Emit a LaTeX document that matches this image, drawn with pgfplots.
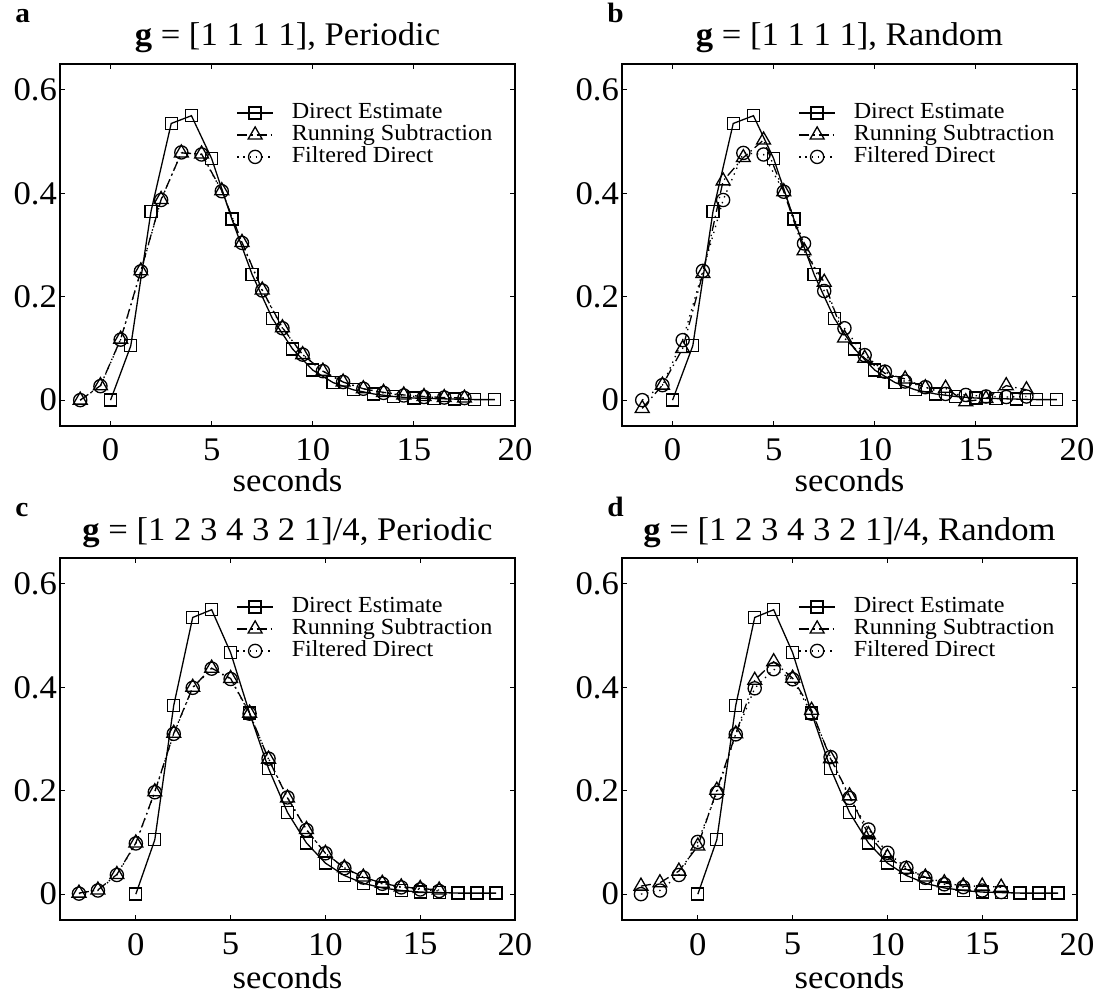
\documentclass[border=0pt]{standalone}
\usepackage{fontspec}
\setmainfont{Liberation Serif}[FakeStretch=1.05]
\usepackage{pgfplots}
\pgfplotsset{compat=1.18}

\newcommand{\lbl}{\fontsize{16.5}{18}\selectfont}
\newcommand{\leg}{\fontsize{11.5}{13}\selectfont}

\pgfplotsset{
  panel/.style={
    scale only axis, width=227.5pt, height=181pt, anchor=south west,
    ymin=-0.05, ymax=0.65, xmax=20,
    xtick={0,5,10,15,20}, xticklabels={0,5,10,15,20},
    ytick={0,0.2,0.4,0.6}, yticklabels={0,0.2,0.4,0.6},
    tick align=inside, tick pos=both, major tick length=2.5pt,
    axis line style={line width=0.6pt},
    every tick/.style={black,line width=0.5pt},
    tick label style={font=\lbl},
    xticklabel style={yshift=-3pt},
    yticklabel style={xshift=2pt},
    xlabel={seconds},
    xlabel style={font=\lbl,at={(axis description cs:0.5,0)},anchor=base,yshift=-33pt},
    title style={font=\lbl,at={(axis description cs:0.5,1)},anchor=base,yshift=3pt},
    legend style={at={(0.387,0.895)},anchor=north west,draw=none,fill=none,
      inner sep=0pt,font=\leg,row sep=0.5pt,
      nodes={inner sep=0.5pt,text height=7.5pt,text depth=2pt}},
    legend cell align=left,
    legend image code/.code={\draw[mark repeat=2,mark phase=2,##1] plot coordinates {(0pt,0pt) (9pt,0pt) (18pt,0pt)};},
    /tikz/every odd column/.append style={column sep=8.5pt},
    clip=false,
  },
  lower/.style={xlabel style={yshift=-1.5pt}},
  de/.style={black,line width=0.65pt,mark=square,mark size=3pt,mark options={solid,line width=0.65pt}},
  rs/.style={black,line width=0.65pt,dash pattern=on 5pt off 2pt on 0.7pt off 2pt,mark=triangle,mark size=4pt,mark options={solid,line width=0.65pt}},
  fd/.style={black,line width=0.65pt,dash pattern=on 0.7pt off 2.4pt,mark=o,mark size=3.3pt,mark options={solid,line width=0.65pt}},
}

\begin{document}
\begin{tikzpicture}

% a
\begin{axis}[panel,at={(30pt,284pt)},xmin=-2.5,title={\textbf{g} = [1 1 1 1], Periodic}]
\addplot[de] coordinates {(0,0) (1,0.105) (2,0.365) (3,0.535) (4,0.55) (5,0.467) (6,0.35) (7,0.243) (8,0.158) (9,0.099) (10,0.058) (11,0.034) (12,0.02) (13,0.012) (14,0.007) (15,0.004) (16,0.003) (17,0.002) (18,0.001) (19,0.001)};
\addlegendentry{Direct Estimate}
\addplot[rs] coordinates {(-1.5,0) (-0.5,0.028) (0.5,0.118) (1.5,0.25) (2.5,0.388) (3.5,0.478) (4.5,0.476) (5.5,0.405) (6.5,0.305) (7.5,0.213) (8.5,0.14) (9.5,0.088) (10.5,0.056) (11.5,0.035) (12.5,0.022) (13.5,0.015) (14.5,0.01) (15.5,0.007) (16.5,0.005) (17.5,0.004)};
\addlegendentry{Running Subtraction}
\addplot[fd] coordinates {(-1.5,0) (-0.5,0.027) (0.5,0.117) (1.5,0.249) (2.5,0.387) (3.5,0.479) (4.5,0.475) (5.5,0.404) (6.5,0.304) (7.5,0.212) (8.5,0.139) (9.5,0.088) (10.5,0.056) (11.5,0.035) (12.5,0.022) (13.5,0.014) (14.5,0.009) (15.5,0.006) (16.5,0.005) (17.5,0.004)};
\addlegendentry{Filtered Direct}
\end{axis}

% b
\begin{axis}[panel,at={(311pt,284pt)},xmin=-2.5,title={\textbf{g} = [1 1 1 1], Random}]
\addplot[de] coordinates {(0,0) (1,0.105) (2,0.365) (3,0.535) (4,0.55) (5,0.467) (6,0.35) (7,0.243) (8,0.158) (9,0.099) (10,0.058) (11,0.034) (12,0.02) (13,0.012) (14,0.007) (15,0.004) (16,0.003) (17,0.002) (18,0.001) (19,0.001)};
\addlegendentry{Direct Estimate}
\addplot[rs] coordinates {(-1.5,-0.016) (-0.5,0.029) (0.5,0.10) (1.5,0.245) (2.5,0.424) (3.5,0.469) (4.5,0.503) (5.5,0.403) (6.5,0.289) (7.5,0.228) (8.5,0.12) (9.5,0.081) (10.5,0.052) (11.5,0.041) (12.5,0.024) (13.5,0.023) (14.5,-0.003) (15.5,0.003) (16.5,0.028) (17.5,0.02)};
\addlegendentry{Running Subtraction}
\addplot[fd] coordinates {(-1.5,0) (-0.5,0.029) (0.5,0.116) (1.5,0.25) (2.5,0.387) (3.5,0.478) (4.5,0.475) (5.5,0.403) (6.5,0.303) (7.5,0.211) (8.5,0.139) (9.5,0.087) (10.5,0.055) (11.5,0.036) (12.5,0.025) (13.5,0.012) (14.5,0.01) (15.5,0.007) (16.5,0.006) (17.5,0.007)};
\addlegendentry{Filtered Direct}
\end{axis}

% c
\begin{axis}[panel,lower,at={(30pt,37pt)},xmin=-4,title={\textbf{g} = [1 2 3 4 3 2 1]/4, Periodic}]
\addplot[de] coordinates {(0,0) (1,0.105) (2,0.365) (3,0.535) (4,0.55) (5,0.467) (6,0.35) (7,0.243) (8,0.158) (9,0.099) (10,0.06) (11,0.036) (12,0.021) (13,0.012) (14,0.007) (15,0.004) (16,0.003) (17,0.002) (18,0.002) (19,0.002)};
\addlegendentry{Direct Estimate}
\addplot[rs] coordinates {(-3,0.002) (-2,0.008) (-1,0.038) (0,0.099) (1,0.198) (2,0.311) (3,0.4) (4,0.437) (5,0.417) (6,0.35) (7,0.261) (8,0.186) (9,0.125) (10,0.079) (11,0.051) (12,0.033) (13,0.021) (14,0.014) (15,0.011) (16,0.008)};
\addlegendentry{Running Subtraction}
\addplot[fd] coordinates {(-3,0.001) (-2,0.007) (-1,0.037) (0,0.098) (1,0.197) (2,0.31) (3,0.399) (4,0.436) (5,0.416) (6,0.349) (7,0.262) (8,0.187) (9,0.124) (10,0.079) (11,0.05) (12,0.032) (13,0.02) (14,0.013) (15,0.009) (16,0.006)};
\addlegendentry{Filtered Direct}
\end{axis}

% d
\begin{axis}[panel,lower,at={(311pt,37pt)},xmin=-4,title={\textbf{g} = [1 2 3 4 3 2 1]/4, Random}]
\addplot[de] coordinates {(0,0) (1,0.105) (2,0.365) (3,0.535) (4,0.55) (5,0.467) (6,0.35) (7,0.243) (8,0.158) (9,0.099) (10,0.06) (11,0.036) (12,0.021) (13,0.012) (14,0.007) (15,0.004) (16,0.003) (17,0.002) (18,0.002) (19,0.002)};
\addlegendentry{Direct Estimate}
\addplot[rs] coordinates {(-3,0.0155) (-2,0.022) (-1,0.0445) (0,0.093) (1,0.201) (2,0.31) (3,0.4135) (4,0.4495) (5,0.4175) (6,0.3555) (7,0.262) (8,0.19) (9,0.115) (10,0.0715) (11,0.048) (12,0.033) (13,0.022) (14,0.0155) (15,0.0155) (16,0.0135)};
\addlegendentry{Running Subtraction}
\addplot[fd] coordinates {(-3,0) (-2,0.007) (-1,0.037) (0,0.101) (1,0.196) (2,0.309) (3,0.398) (4,0.435) (5,0.4155) (6,0.349) (7,0.265) (8,0.186) (9,0.125) (10,0.08) (11,0.051) (12,0.0316) (13,0.019) (14,0.0135) (15,0.007) (16,0.004)};
\addlegendentry{Filtered Direct}
\end{axis}

\begin{scope}[every node/.style={anchor=base west,font=\bfseries\fontsize{14}{16}\selectfont,inner sep=0pt}]
\node at (7.5pt,485.5pt) {a};
\node at (303.5pt,485.5pt) {b};
\node at (7.5pt,238.5pt) {c};
\node at (303.5pt,238.5pt) {d};
\end{scope}

\pgfresetboundingbox
\useasboundingbox (0,0) rectangle (549pt,497pt);
\end{tikzpicture}
\end{document}
